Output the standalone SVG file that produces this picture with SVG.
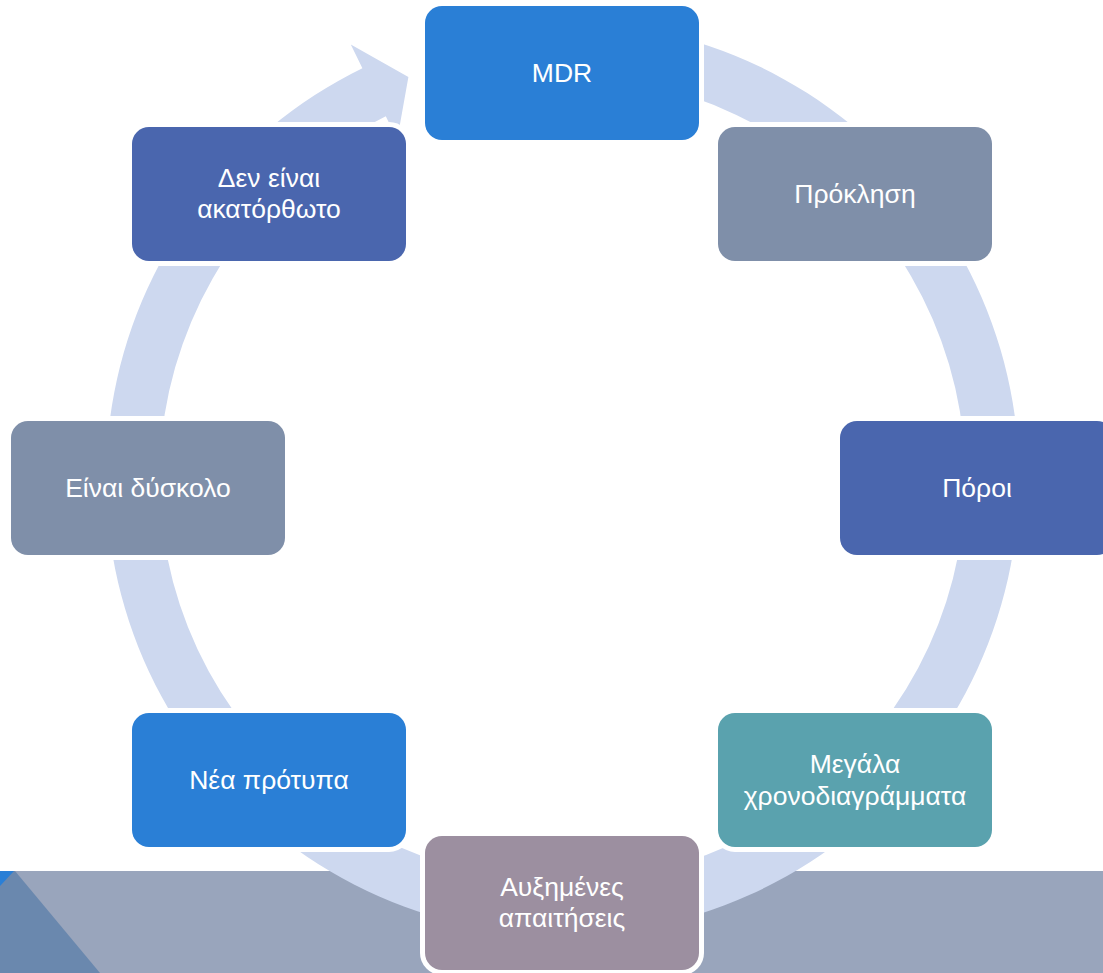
<svg xmlns="http://www.w3.org/2000/svg" width="1103" height="973" viewBox="0 0 1103 973">
<style>
.node rect{stroke:#ffffff;stroke-width:10;paint-order:stroke;}
.node text{font-family:"Liberation Sans",Arial,sans-serif;font-size:26.5px;fill:#ffffff;text-anchor:middle;}
.c1{fill:#2a7fd6}.c2{fill:#7f8fa9}.c3{fill:#4a66ae}.c4{fill:#5aa2ae}.c5{fill:#9c8fa0}
</style>
<rect width="1103" height="973" fill="#ffffff"/>
<g id="background">
<rect x="0" y="871" width="1103" height="102" fill="#99a5bc"/>
<polygon points="0,871 15,871 100,973 0,973" fill="#6a88ae"/>
<polygon points="0,871 14,871 0,886" fill="#2a7fd6"/>
</g>
<g id="connectors">
<path d="M 602.3 23.7 A 456.5 456.5 0 1 1 362.4 68.2 L 350.8 44.4 L 408.4 77.1 L 397.2 139.7 L 385.8 116.3 A 403 403 0 1 0 597.6 77 Z" fill="#cdd8ef"/>
</g>
<g id="n1" class="node"><rect class="c1" x="425" y="6" width="274" height="134" rx="17"/><text x="562" y="82">MDR</text></g>
<g id="n2" class="node"><rect class="c2" x="718" y="127" width="274" height="134" rx="17"/><text x="855" y="203">Πρόκληση</text></g>
<g id="n3" class="node"><rect class="c3" x="840" y="421" width="274" height="134" rx="17"/><text x="977" y="497">Πόροι</text></g>
<g id="n4" class="node"><rect class="c4" x="718" y="713" width="274" height="134" rx="17"/><text x="855" y="773">Μεγάλα</text><text x="855" y="804.5">χρονοδιαγράμματα</text></g>
<g id="n5" class="node"><rect class="c5" x="425" y="836" width="274" height="134" rx="17"/><text x="562" y="896">Αυξημένες</text><text x="562" y="927">απαιτήσεις</text></g>
<g id="n6" class="node"><rect class="c1" x="132" y="713" width="274" height="134" rx="17"/><text x="269" y="789">Νέα πρότυπα</text></g>
<g id="n7" class="node"><rect class="c2" x="11" y="421" width="274" height="134" rx="17"/><text x="148" y="497">Είναι δύσκολο</text></g>
<g id="n8" class="node"><rect class="c3" x="132" y="127" width="274" height="134" rx="17"/><text x="269" y="187">Δεν είναι</text><text x="269" y="218">ακατόρθωτο</text></g>
</svg>
